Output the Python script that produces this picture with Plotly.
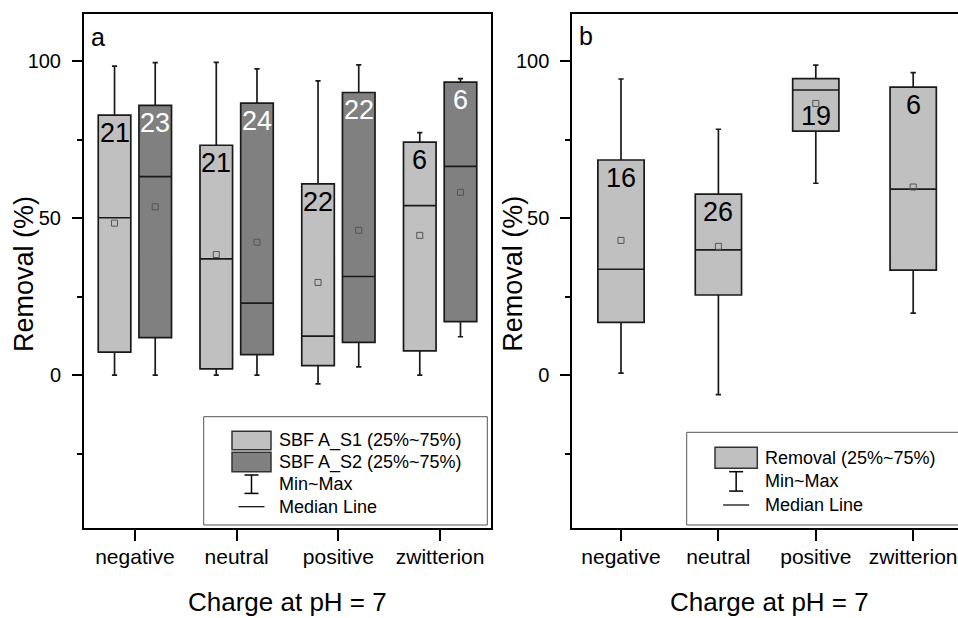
import plotly.graph_objects as go

# ---------------- data ----------------
categories = ["negative", "neutral", "positive", "zwitterion"]

a_s1_min = [0.0, 0.0, -2.8, 0.0]
a_s1_q1 = [7.3, 2.0, 3.0, 7.7]
a_s1_med = [50.1, 37.0, 12.4, 54.0]
a_s1_q3 = [82.8, 73.2, 60.9, 74.2]
a_s1_max = [98.4, 99.6, 93.7, 77.2]
a_s1_mean = [48.4, 38.4, 29.5, 44.5]
a_s1_n = [21, 21, 22, 6]

a_s2_min = [0.0, 0.0, 2.6, 12.2]
a_s2_q1 = [11.9, 6.5, 10.4, 17.0]
a_s2_med = [63.2, 22.9, 31.4, 66.5]
a_s2_q3 = [85.9, 86.6, 90.0, 93.3]
a_s2_max = [99.5, 97.5, 98.8, 94.4]
a_s2_mean = [53.6, 42.3, 46.1, 58.2]
a_s2_n = [23, 24, 22, 6]

b_min = [0.6, -6.2, 61.1, 19.7]
b_q1 = [16.8, 25.5, 77.7, 33.4]
b_med = [33.7, 39.9, 90.8, 59.2]
b_q3 = [68.5, 57.6, 94.4, 91.7]
b_max = [94.3, 78.3, 98.7, 96.3]
b_mean = [42.9, 41.0, 86.5, 59.9]
b_n = [16, 26, 19, 6]

y_ticks = [0, 50, 100]

# ---------------- styling ----------------
W, H = 958, 618
FONT = "Arial, Liberation Sans, sans-serif"
C_S1 = "#c0c0c0"
C_S2 = "#808080"
EDGE = "#1a1a1a"


def px(x):
    return x / W


def py(y):
    return 1 - y / H


idx = list(range(len(categories)))
fig = go.Figure()


def add_box(xpos, q1, med, q3, lo, hi, fill, width, ww, xa, ya):
    fig.add_trace(go.Box(
        x=xpos, q1=q1, median=med, q3=q3, lowerfence=lo, upperfence=hi,
        width=width, whiskerwidth=ww, fillcolor=fill,
        line=dict(color=EDGE, width=1.7), boxpoints=False,
        showlegend=False, xaxis=xa, yaxis=ya, hoverinfo="skip"))


def add_mean(xpos, mean, xa, ya):
    fig.add_trace(go.Scatter(
        x=xpos, y=mean, mode="markers",
        marker=dict(symbol="square-open", size=6, color="#555555",
                    line=dict(width=1, color="#555555")),
        showlegend=False, xaxis=xa, yaxis=ya, hoverinfo="skip"))


off = 0.2
x_s1 = [i - off for i in idx]
x_s2 = [i + off for i in idx]

add_box(x_s1, a_s1_q1, a_s1_med, a_s1_q3, a_s1_min, a_s1_max, C_S1, 0.32, 0.16, "x", "y")
add_box(x_s2, a_s2_q1, a_s2_med, a_s2_q3, a_s2_min, a_s2_max, C_S2, 0.32, 0.16, "x", "y")
add_mean(x_s1, a_s1_mean, "x", "y")
add_mean(x_s2, a_s2_mean, "x", "y")

add_box(idx, b_q1, b_med, b_q3, b_min, b_max, C_S1, 0.475, 0.115, "x2", "y2")
add_mean(idx, b_mean, "x2", "y2")

annotations = []


def n_label(x, y, n, color, xref, yref, yshift=-1):
    annotations.append(dict(
        x=x, y=y, xref=xref, yref=yref, text=str(n), showarrow=False,
        xanchor="center", yanchor="top", yshift=yshift,
        font=dict(family=FONT, size=27, color=color)))


for i in idx:
    n_label(x_s1[i], a_s1_q3[i], a_s1_n[i], "black", "x", "y")
    n_label(x_s2[i], a_s2_q3[i], a_s2_n[i], "white", "x", "y")
    n_label(i, b_q3[i], b_n[i], "black", "x2", "y2",
            yshift=-20 if categories[i] == "positive" else -1)

# panel letters
annotations.append(dict(x=px(89), y=py(37), xref="paper", yref="paper", text="a",
                        showarrow=False, xanchor="left", yanchor="middle",
                        font=dict(family=FONT, size=25, color="black")))
annotations.append(dict(x=px(577), y=py(36), xref="paper", yref="paper", text="b",
                        showarrow=False, xanchor="left", yanchor="middle",
                        font=dict(family=FONT, size=25, color="black")))

# axis titles
for cx in (287.5, 769):
    annotations.append(dict(x=px(cx), y=py(602), xref="paper", yref="paper",
                            text="Charge at pH = 7", showarrow=False,
                            xanchor="center", yanchor="middle",
                            font=dict(family=FONT, size=26, color="black")))
for cx in (24, 512.7):
    annotations.append(dict(x=px(cx), y=py(274), xref="paper", yref="paper",
                            text="Removal (%)", showarrow=False, textangle=-90,
                            xanchor="center", yanchor="middle",
                            font=dict(family=FONT, size=27, color="black")))

shapes = []


def legend(box, rows, sw_x, texts_x):
    x0, x1, y0, y1 = box
    shapes.append(dict(type="rect", xref="paper", yref="paper",
                       x0=px(x0), x1=px(x1), y0=py(y1), y1=py(y0),
                       line=dict(color="#555555", width=1), fillcolor="white",
                       layer="above"))
    for kind, yc, label, extra in rows:
        if kind == "swatch":
            h = extra[1]
            shapes.append(dict(type="rect", xref="paper", yref="paper",
                               x0=px(sw_x[0]), x1=px(sw_x[1]),
                               y0=py(yc + h / 2), y1=py(yc - h / 2),
                               fillcolor=extra[0], line=dict(color="#333333", width=1.5),
                               layer="above"))
        elif kind == "ibar":
            xm = (sw_x[0] + sw_x[1]) / 2
            half = extra
            shapes.append(dict(type="line", xref="paper", yref="paper",
                               x0=px(xm), x1=px(xm), y0=py(yc - half), y1=py(yc + half),
                               line=dict(color="black", width=1.5), layer="above"))
            for yy in (yc - half, yc + half):
                shapes.append(dict(type="line", xref="paper", yref="paper",
                                   x0=px(xm - 7), x1=px(xm + 7), y0=py(yy), y1=py(yy),
                                   line=dict(color="black", width=1.5), layer="above"))
        elif kind == "median":
            xm = (sw_x[0] + sw_x[1]) / 2
            shapes.append(dict(type="line", xref="paper", yref="paper",
                               x0=px(xm - 13), x1=px(xm + 13), y0=py(yc), y1=py(yc),
                               line=dict(color="black", width=1.2), layer="above"))
        annotations.append(dict(x=px(texts_x), y=py(yc), xref="paper", yref="paper",
                                text=label, showarrow=False, xanchor="left",
                                yanchor="middle",
                                font=dict(family=FONT, size=18, color="black")))


legend((203.7, 487.3, 416.7, 525),
       [("swatch", 440.5, "SBF A_S1 (25%~75%)", (C_S1, 18.6)),
        ("swatch", 462.0, "SBF A_S2 (25%~75%)", (C_S2, 19.4)),
        ("ibar", 484.2, "Min~Max", 9.2),
        ("median", 506.7, "Median Line", None)],
       (232, 271), 277.3)

legend((686.7, 990, 432.3, 525),
       [("swatch", 457.8, "Removal (25%~75%)", (C_S1, 21)),
        ("ibar", 481.4, "Min~Max", 9.7),
        ("median", 505, "Median Line", None)],
       (715, 757.3), 763.3)

ydom = [py(528.3), py(14)]
yrange = [-48.8, 115]

common_x = dict(tickmode="array", tickvals=idx, ticktext=categories,
                ticks="outside", ticklen=11, tickwidth=2, tickcolor="black",
                showline=True, linewidth=2, linecolor="black",
                showgrid=False, zeroline=False, ticklabelstandoff=-3,
                tickfont=dict(family=FONT, size=21, color="black"))
common_y = dict(range=yrange, domain=ydom, tickmode="array", tickvals=y_ticks,
                ticks="outside", ticklen=10, tickwidth=2, tickcolor="black",
                showline=True, linewidth=2, linecolor="black",
                showgrid=False, zeroline=False, ticklabelstandoff=7,
                minor=dict(tickmode="array", tickvals=[-25, 25, 75], ticks="outside",
                           ticklen=5, tickwidth=2, tickcolor="black", showgrid=False),
                tickfont=dict(family=FONT, size=20, color="black"))

fig.update_layout(
    width=W, height=H, autosize=False,
    margin=dict(l=0, r=0, t=0, b=0),
    paper_bgcolor="white", plot_bgcolor="white",
    showlegend=False,
    xaxis=dict(common_x, domain=[px(84), px(491)], range=[-0.5, 3.5], mirror=True,
               anchor="y"),
    yaxis=dict(common_y, mirror=True, anchor="x"),
    xaxis2=dict(common_x, domain=[px(572.3), 1.0], range=[-0.5, 3.46], mirror=True,
                anchor="y2"),
    yaxis2=dict(common_y, mirror=False, anchor="x2"),
    annotations=annotations,
    shapes=shapes,
)

fig.write_html("out.html")
